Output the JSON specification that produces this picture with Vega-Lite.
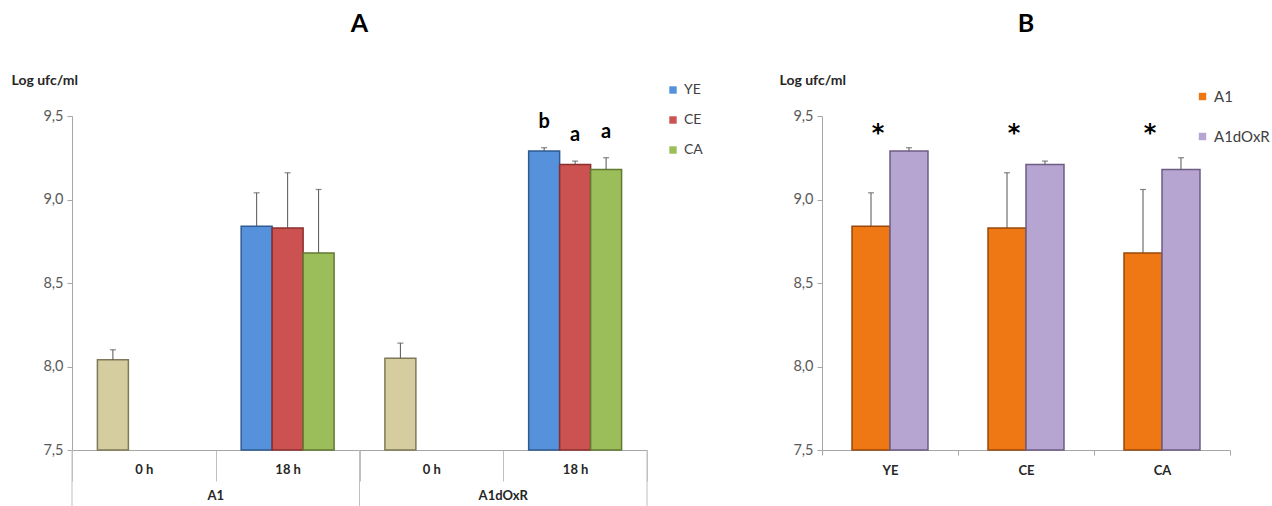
{
  "$schema": "https://vega.github.io/schema/vega-lite/v6.json",
  "background": "white",
  "padding": {"left": 11, "top": 12, "right": 5, "bottom": 0},
  "spacing": 76,
  "resolve": {"scale": {"color": "independent", "stroke": "independent", "xOffset": "independent", "x": "independent", "y": "independent"}, "legend": {"color": "independent"}},
  "config": {
    "font": "Lato",
    "view": {"stroke": null},
    "axisY": {
      "domainColor": "#A6A6A6", "tickColor": "#A6A6A6", "tickSize": 5, "grid": false,
      "labelColor": "#595959", "labelFontSize": 14.5, "labelPadding": 4,
      "titleAngle": 0, "titleAlign": "left", "titleBaseline": "middle",
      "titleFontSize": 14, "titleFontWeight": "bold", "titleColor": "#262626"
    },
    "legend": {"labelFont": "Lato", "labelColor": "#404040", "symbolType": "square", "symbolStrokeWidth": 0}
  },
  "datasets": {
    "a": [
      {"group": "A1", "cat": "A1|0 h", "series": "YE", "fill": "0 h", "value": 8.04, "upper": 8.10, "sig": ""},
      {"group": "A1", "cat": "A1|18 h", "series": "YE", "fill": "YE", "value": 8.84, "upper": 9.04, "sig": ""},
      {"group": "A1", "cat": "A1|18 h", "series": "CE", "fill": "CE", "value": 8.83, "upper": 9.16, "sig": ""},
      {"group": "A1", "cat": "A1|18 h", "series": "CA", "fill": "CA", "value": 8.68, "upper": 9.06, "sig": ""},
      {"group": "A1dOxR", "cat": "A1dOxR|0 h", "series": "YE", "fill": "0 h", "value": 8.05, "upper": 8.14, "sig": ""},
      {"group": "A1dOxR", "cat": "A1dOxR|18 h", "series": "YE", "fill": "YE", "value": 9.29, "upper": 9.31, "sig": "b"},
      {"group": "A1dOxR", "cat": "A1dOxR|18 h", "series": "CE", "fill": "CE", "value": 9.21, "upper": 9.23, "sig": "a"},
      {"group": "A1dOxR", "cat": "A1dOxR|18 h", "series": "CA", "fill": "CA", "value": 9.18, "upper": 9.25, "sig": "a"}
    ],
    "b": [
      {"medium": "YE", "strain": "A1", "value": 8.84, "upper": 9.04},
      {"medium": "YE", "strain": "A1dOxR", "value": 9.29, "upper": 9.31},
      {"medium": "CE", "strain": "A1", "value": 8.83, "upper": 9.16},
      {"medium": "CE", "strain": "A1dOxR", "value": 9.21, "upper": 9.23},
      {"medium": "CA", "strain": "A1", "value": 8.68, "upper": 9.06},
      {"medium": "CA", "strain": "A1dOxR", "value": 9.18, "upper": 9.25}
    ]
  },
  "hconcat": [
    {
      "width": 575, "height": 334,
      "title": {"text": "A", "fontSize": 25, "fontWeight": "bold", "font": "Lato", "color": "#000000", "anchor": "middle", "frame": "group", "offset": 36},
      "data": {"name": "a"},
      "layer": [
        {
          "mark": {"type": "bar", "strokeWidth": 1.5},
          "encoding": {
            "x": {"field": "cat", "type": "nominal", "sort": null,
              "scale": {"domain": ["A1|0 h", "A1|18 h", "A1dOxR|0 h", "A1dOxR|18 h"], "paddingInner": 0, "paddingOuter": 0},
              "axis": {"title": null, "labelExpr": "split(datum.label, '|')[1]", "tickBand": "extent",
                "tickSize": 31, "labelPadding": -18, "labelAngle": 0, "labelFontSize": 13, "labelFontWeight": "bold", "labelColor": "#262626",
                "domainColor": "#A6A6A6", "tickColor": "#BFBFBF"}},
            "xOffset": {"field": "series", "type": "nominal", "scale": {"domain": ["YE", "CE", "CA"], "paddingInner": 0, "paddingOuter": 0.82}},
            "y": {"field": "value", "type": "quantitative", "scale": {"domain": [7.5, 9.5], "nice": false, "zero": false},
              "axis": {"values": [7.5, 8, 8.5, 9, 9.5], "labelExpr": "replace(format(datum.value, '.1f'), '.', ',')",
                "title": "Log ufc/ml", "titleX": -61, "titleY": -36}},
            "y2": {"datum": 7.5},
            "color": {"field": "fill", "type": "nominal",
              "scale": {"domain": ["YE", "CE", "CA", "0 h"], "range": ["#5592DB", "#CC5151", "#9CBE5A", "#D5CDA0"]},
              "legend": {"values": ["YE", "CE", "CA"], "title": null, "orient": "none", "legendX": 594, "legendY": -33,
                "labelFontSize": 14, "symbolSize": 55, "rowPadding": 16}},
            "stroke": {"field": "fill", "type": "nominal",
              "scale": {"domain": ["YE", "CE", "CA", "0 h"], "range": ["#2F5B93", "#8A2F2D", "#617A32", "#7E7956"]}, "legend": null}
          }
        },
        {
          "mark": {"type": "rule", "color": "#555555", "strokeWidth": 1},
          "encoding": {
            "x": {"field": "cat", "type": "nominal", "sort": null},
            "xOffset": {"field": "series", "type": "nominal"},
            "y": {"field": "value", "type": "quantitative"},
            "y2": {"field": "upper"}
          }
        },
        {
          "mark": {"type": "tick", "color": "#555555", "size": 6, "thickness": 1.2},
          "encoding": {
            "x": {"field": "cat", "type": "nominal", "sort": null},
            "xOffset": {"field": "series", "type": "nominal"},
            "y": {"field": "upper", "type": "quantitative"}
          }
        },
        {
          "transform": [{"filter": "datum.sig != ''"}],
          "mark": {"type": "text", "fontSize": 20, "fontWeight": "bold", "color": "#000000", "baseline": "middle", "dy": -26},
          "encoding": {
            "x": {"field": "cat", "type": "nominal", "sort": null},
            "xOffset": {"field": "series", "type": "nominal"},
            "y": {"field": "upper", "type": "quantitative"},
            "text": {"field": "sig"}
          }
        },
        {
          "transform": [{"filter": "indexof(datum.cat, '0 h') > 0"}],
          "mark": {"type": "rule", "color": "#BFBFBF", "strokeWidth": 1, "clip": false},
          "encoding": {
            "x": {"field": "cat", "type": "nominal", "sort": null, "bandPosition": 0},
            "y": {"datum": 7.5},
            "y2": {"datum": 7.165}
          }
        },
        {
          "transform": [{"filter": "datum.cat == 'A1dOxR|18 h' && datum.series == 'CA'"}],
          "mark": {"type": "rule", "color": "#BFBFBF", "strokeWidth": 1, "clip": false},
          "encoding": {
            "x": {"field": "cat", "type": "nominal", "sort": null, "bandPosition": 1},
            "y": {"datum": 7.5},
            "y2": {"datum": 7.165}
          }
        },
        {
          "transform": [{"filter": "indexof(datum.cat, '18 h') > 0 && datum.series == 'YE'"}],
          "mark": {"type": "text", "fontSize": 13, "fontWeight": "bold", "color": "#262626", "baseline": "middle", "dy": 46, "clip": false},
          "encoding": {
            "x": {"field": "cat", "type": "nominal", "sort": null, "bandPosition": 0},
            "y": {"datum": 7.5},
            "text": {"field": "group"}
          }
        }
      ]
    },
    {
      "width": 408, "height": 334,
      "title": {"text": "B", "fontSize": 25, "fontWeight": "bold", "font": "Lato", "color": "#000000", "anchor": "middle", "frame": "group", "offset": 36},
      "data": {"name": "b"},
      "layer": [
        {
          "mark": {"type": "bar", "strokeWidth": 1.5},
          "encoding": {
            "x": {"field": "medium", "type": "nominal", "sort": null,
              "scale": {"domain": ["YE", "CE", "CA"], "paddingInner": 0, "paddingOuter": 0},
              "axis": {"title": null, "tickBand": "extent", "tickSize": 5, "labelPadding": 9, "labelAngle": 0, "labelFontSize": 13,
                "labelFontWeight": "bold", "labelColor": "#262626", "domainColor": "#A6A6A6", "tickColor": "#A6A6A6"}},
            "xOffset": {"field": "strain", "type": "nominal", "scale": {"domain": ["A1", "A1dOxR"], "paddingInner": 0, "paddingOuter": 0.79}},
            "y": {"field": "value", "type": "quantitative", "scale": {"domain": [7.5, 9.5], "nice": false, "zero": false},
              "axis": {"values": [7.5, 8, 8.5, 9, 9.5], "labelExpr": "replace(format(datum.value, '.1f'), '.', ',')",
                "title": "Log ufc/ml", "titleX": -43, "titleY": -36}},
            "y2": {"datum": 7.5},
            "color": {"field": "strain", "type": "nominal",
              "scale": {"domain": ["A1", "A1dOxR"], "range": ["#F07814", "#B7A5D1"]},
              "legend": {"title": null, "orient": "none", "legendX": 373, "legendY": -27, "labelFontSize": 15, "symbolSize": 55, "rowPadding": 24}},
            "stroke": {"field": "strain", "type": "nominal",
              "scale": {"domain": ["A1", "A1dOxR"], "range": ["#99480A", "#6E5C84"]}, "legend": null}
          }
        },
        {
          "mark": {"type": "rule", "color": "#555555", "strokeWidth": 1},
          "encoding": {
            "x": {"field": "medium", "type": "nominal", "sort": null},
            "xOffset": {"field": "strain", "type": "nominal"},
            "y": {"field": "value", "type": "quantitative"},
            "y2": {"field": "upper"}
          }
        },
        {
          "mark": {"type": "tick", "color": "#555555", "size": 6, "thickness": 1.2},
          "encoding": {
            "x": {"field": "medium", "type": "nominal", "sort": null},
            "xOffset": {"field": "strain", "type": "nominal"},
            "y": {"field": "upper", "type": "quantitative"}
          }
        },
        {
          "transform": [{"filter": "datum.strain == 'A1'"}],
          "mark": {"type": "text", "font": "DejaVu Sans", "fontSize": 24, "fontWeight": "bold", "color": "#000000", "baseline": "alphabetic", "dx": -12, "dy": 12},
          "encoding": {
            "x": {"field": "medium", "type": "nominal", "sort": null},
            "y": {"datum": 9.42},
            "text": {"value": "*"}
          }
        }
      ]
    }
  ]
}
